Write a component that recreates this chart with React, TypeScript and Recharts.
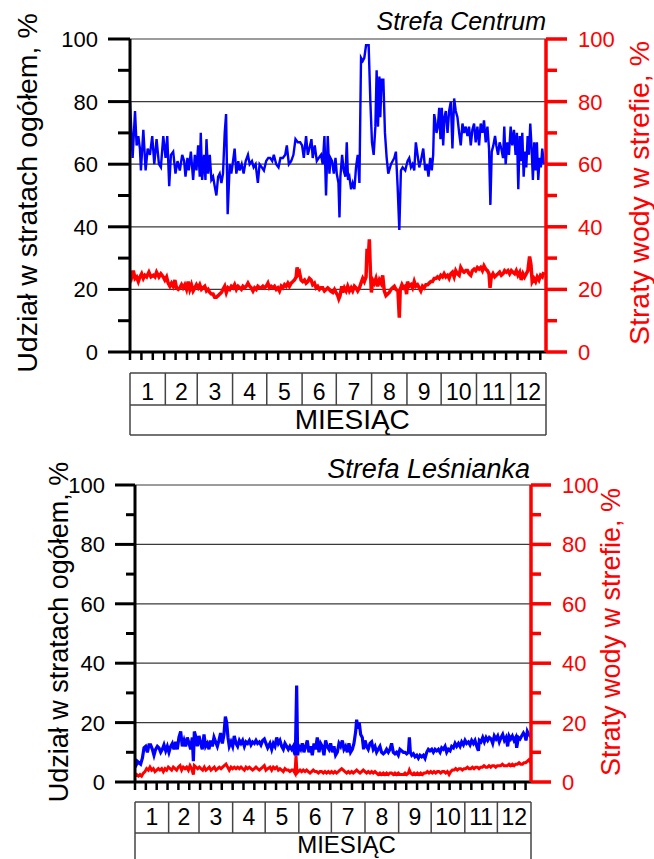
import { ComposedChart, Line, XAxis, YAxis, ReferenceLine } from "recharts";

type Pt = [number, number];

// day-of-year (0..365) / value pairs
const centrumUdzial: Pt[] = [
  [0, 80], [2.3, 62], [4.4, 77], [5.8, 66], [7.3, 69], [8.7, 65], [9.6, 58], [11.7, 71], [13.7, 58], [15.5, 65],
  [17.5, 63], [19.5, 69], [21.3, 60], [23.3, 68], [25.4, 60], [27.1, 59], [29.2, 69], [31.2, 62], [32.7, 69], [34.4, 53],
  [35.9, 63], [37.9, 64], [39.9, 57], [41.7, 61], [43.7, 58], [45.8, 63], [47.5, 61], [48.7, 56], [50.4, 62], [51.6, 58],
  [53.4, 64], [55.4, 55], [56.9, 63], [58.3, 58], [59.8, 66], [61.2, 56], [62.1, 70], [63.3, 55], [65, 63], [66.2, 55],
  [67.1, 68], [68.5, 57], [70, 63], [71.4, 55], [72.9, 56], [74.3, 53], [75.8, 50], [77.3, 56], [78.7, 57], [80.2, 54],
  [81.6, 57], [83.1, 70], [84.3, 76], [85.7, 44], [87.5, 60], [88.9, 57], [90.4, 61], [91.8, 65], [93.3, 57], [95, 61],
  [96.2, 58], [98, 60], [99.7, 57], [101.5, 61], [103.5, 63], [105, 60], [107, 61], [108.5, 59], [110.2, 60], [112.2, 54],
  [113.7, 60], [115.7, 59], [117.5, 58], [119.5, 61], [121.3, 62], [123, 62], [124.8, 61], [126.2, 63], [128.3, 60], [130.3, 59],
  [132, 62], [134.1, 62], [136.2, 63], [137.6, 66], [139.4, 60], [141.4, 61], [143.4, 63], [145.2, 68], [147.2, 67], [149.3, 67],
  [151, 66], [152.5, 62], [154.5, 69], [156, 63], [157.4, 65], [159.2, 68], [160.3, 62], [162.1, 66], [163.9, 61], [165.6, 62],
  [167.6, 63], [169.1, 60], [170.6, 69], [172, 50], [173.5, 69], [175, 57], [175.9, 62], [177.3, 61], [178.8, 57], [180.3, 62],
  [181.4, 57], [182.9, 54], [183.8, 43], [184.6, 56], [186.1, 63], [187.5, 58], [189, 56], [190.2, 67], [191.3, 55], [192.5, 56],
  [194, 52], [195.4, 54], [196.9, 52], [198.3, 59], [199.8, 63], [201.3, 54], [202.7, 94], [204.2, 93], [205.6, 94], [207.1, 98],
  [209.4, 98], [210.9, 80], [212.3, 67], [213.8, 63], [215.3, 72], [216.4, 90], [217.6, 72], [218.8, 88], [219.6, 75], [220.8, 87],
  [222.3, 87], [223.7, 70], [225.2, 62], [226.6, 57], [229, 60], [231.9, 62], [233.3, 64], [234.8, 53], [236.3, 39], [237.7, 58],
  [239.2, 59], [241.5, 58], [243.5, 61], [245, 62], [246.5, 59], [247.9, 60], [249.4, 58], [250.8, 67], [252.3, 63], [253.8, 59],
  [255.2, 61], [257.3, 65], [259, 58], [260.5, 60], [261.9, 56], [263.4, 62], [264.8, 58], [266, 63], [266.9, 76], [267.8, 74],
  [268.9, 70], [270.1, 72], [271.3, 78], [272.4, 68], [273.6, 78], [274.8, 66], [275.9, 75], [277.1, 77], [278.6, 70], [280, 77],
  [281.5, 80], [282.9, 65], [284.4, 81], [285.8, 77], [287.3, 75], [288.8, 70], [290.2, 66], [291.7, 73], [293.1, 70], [294.6, 72],
  [296.1, 69], [297.5, 72], [299, 66], [300.4, 71], [301.9, 73], [303.3, 67], [304.8, 72], [306.3, 66], [307.7, 73], [309.2, 70],
  [310.6, 74], [312.1, 67], [313.6, 72], [315, 65], [316.2, 47], [317.4, 64], [318.8, 66], [320.3, 69], [321.4, 66], [322.9, 63],
  [324.3, 67], [325.8, 65], [327.3, 62], [328.4, 72], [329.6, 60], [331.1, 67], [332.5, 63], [334, 72], [335.4, 66], [336.9, 71],
  [338.3, 63], [339.5, 70], [340.7, 52], [341.9, 69], [343, 61], [344.2, 70], [345.4, 56], [346.5, 64], [347.7, 59], [348.9, 69],
  [350, 63], [351.2, 73], [352.4, 65], [353.5, 55], [354.7, 67], [355.9, 58], [357, 67], [358.2, 55], [359.4, 62], [360.5, 59],
  [361.7, 65], [363.1, 60],
];

const centrumStraty: Pt[] = [
  [0, 26], [1.5, 24], [2.9, 26], [4.4, 23.5], [5.8, 24], [7.3, 22.5], [8.7, 24], [10.2, 25], [11.7, 23.5], [13.1, 24.5],
  [14.6, 24], [16.6, 25.5], [18.4, 24], [20.4, 24.5], [21.9, 24], [23.3, 25.5], [25.4, 24], [27.1, 25], [29.2, 24], [30.6, 23],
  [32.1, 24], [33.5, 22], [35, 21], [36.4, 22], [37.9, 21], [39.4, 23], [40.8, 20.5], [42.3, 20], [43.7, 20.5], [45.2, 21.5],
  [46.6, 20.5], [48.1, 21.5], [49.6, 20], [51, 22.5], [52.5, 20], [53.9, 21.5], [55.4, 19.5], [56.9, 20.5], [58.3, 21.5], [59.8, 20.5],
  [61.2, 21.5], [62.7, 20], [64.1, 20.5], [65.6, 21], [67.1, 19.5], [68.5, 20], [70, 19], [71.4, 18.5], [72.9, 18.5], [74.3, 17.5],
  [75.8, 17.5], [77.3, 18], [78.7, 18.5], [80.2, 19], [81.6, 20], [83.1, 21], [84.5, 19], [86, 20.5], [87.5, 20], [88.9, 21],
  [90.4, 20.5], [91.8, 21.5], [93.3, 20], [94.8, 21], [96.2, 20.5], [97.7, 20], [99.1, 21], [100.6, 20.5], [102, 21], [103.5, 22],
  [105, 21], [106.4, 20.5], [107.9, 19.5], [109.3, 20.5], [110.8, 20], [112.2, 21], [113.7, 20.5], [115.2, 20.5], [116.6, 21], [118.1, 20.5],
  [119.5, 21], [121, 22], [122.4, 20.5], [123.9, 21], [125.4, 20.5], [126.8, 21], [128.3, 20], [129.7, 20.5], [131.2, 19.5], [132.7, 21],
  [134.1, 20.5], [135.6, 21.5], [137, 21], [138.5, 22], [139.9, 21], [141.4, 22], [142.9, 22.5], [144.3, 23], [145.8, 24], [146.6, 27],
  [147.8, 25], [148.7, 25.5], [150.1, 23], [151.6, 22.5], [153.1, 23], [154.5, 22], [156, 22.5], [157.4, 23.5], [158.9, 23], [160.3, 21.5],
  [161.8, 22], [163.3, 20.5], [164.7, 21], [166.2, 20], [167.6, 20.5], [169.1, 20.5], [170.6, 19.5], [172, 20], [173.5, 20.5], [174.9, 20],
  [175.9, 19.5], [177.9, 19], [179.4, 20], [180.8, 19], [182.3, 18], [183.2, 17], [184.3, 18], [185.8, 21], [186.7, 19], [188.1, 20.5],
  [189.6, 19.5], [191, 21], [192.5, 19.5], [194, 20.5], [195.4, 19.5], [196.9, 21], [198.3, 20.5], [199.8, 19.5], [201.3, 20.5], [202.7, 22],
  [204.2, 23.5], [205.6, 22.5], [207.1, 24], [208, 33], [209.1, 30], [210, 36], [210.9, 26], [211.8, 19], [212.9, 23], [214.4, 22],
  [215.8, 23.5], [217.3, 21], [218.8, 23], [220.2, 22], [221.7, 24.5], [223.1, 19.5], [224.6, 18], [226.1, 18.5], [227.5, 19], [229, 20],
  [230.4, 20.5], [231.9, 21], [233.3, 20], [235.1, 19.5], [236.3, 11], [237.1, 20], [238.6, 21.5], [240, 20.5], [241.5, 21], [242.7, 18.5],
  [243.5, 22.5], [245, 21], [246.5, 21.5], [247.9, 20.5], [249.4, 22.5], [250.8, 21], [252.3, 21.5], [253.8, 20.5], [255.2, 19.5], [256.7, 21],
  [258.1, 20.5], [259.6, 21.5], [261.1, 21.5], [262.5, 22], [264, 22.5], [265.4, 22.5], [266.9, 23.5], [268.3, 23.5], [269.8, 24], [271.3, 23.5],
  [272.7, 24.5], [274.2, 24], [275.6, 25], [277.1, 24], [278.6, 24.5], [280, 23.5], [281.5, 25], [282.9, 25.5], [284.4, 24], [285.8, 26],
  [287.3, 25], [288.8, 24.5], [290.2, 27], [291.7, 26], [293.1, 25.5], [294.6, 26], [296.1, 26], [297.5, 25], [299, 24.5], [300.4, 26],
  [301.9, 26.5], [303.3, 26], [304.8, 27], [306.3, 26.5], [307.7, 27], [309.2, 26], [310.6, 27.5], [312.1, 26.5], [313.6, 26], [315, 25],
  [315.9, 20.5], [317, 24], [318.5, 25], [320, 24], [321.4, 24.5], [322.9, 25], [324.3, 25.5], [325.8, 24.5], [327.3, 25], [328.7, 26],
  [330.2, 25.5], [331.6, 26], [333.1, 25], [334.6, 26], [336, 25.5], [337.5, 25], [338.9, 26], [340.4, 24.5], [341.9, 25.5], [343.3, 23],
  [344.8, 25], [346.2, 24], [347.7, 25], [349.1, 26], [350.6, 30.5], [351.8, 28], [352.9, 22.5], [354.4, 23.5], [355.9, 22.5], [357.3, 24],
  [358.8, 23], [360.2, 24.5], [361.7, 24], [363.1, 25.5],
];

const lesniankaUdzial: Pt[] = [
  [0, 5], [1.5, 6], [2.1, 7], [3.7, 6.5], [5.2, 6], [6.8, 8], [8.3, 11.5], [9.8, 12], [11.4, 10], [12.9, 12.5],
  [14.4, 12.5], [16, 11], [17.5, 9], [19, 11], [20.6, 12], [22.1, 11.5], [23.7, 10], [25.2, 11], [26.7, 12.5], [28.3, 10.5],
  [29.8, 12], [31.3, 10], [32.9, 12], [34.4, 13], [35.9, 11], [37.5, 13.5], [39, 11], [40.5, 15], [42.1, 17], [43.6, 12],
  [45.2, 14], [46.7, 12], [48.2, 15], [49.8, 13], [51.3, 11], [52.8, 15], [53.8, 7], [54.7, 17], [56.2, 15], [57.4, 12],
  [59, 15.5], [60.5, 13], [62, 11], [63.6, 16], [65.1, 12], [66.7, 13], [68.2, 11], [69.7, 14], [71.3, 12], [72.8, 15],
  [74.3, 13.5], [75.9, 12], [77.4, 14], [78.9, 16.5], [80.5, 13], [82, 16], [83.3, 22], [84.5, 20], [85.7, 15], [86.9, 12],
  [88.5, 13.5], [90, 12], [91.5, 15.5], [93.1, 13], [94.6, 12], [96.2, 14], [97.7, 13], [99.2, 14], [100.8, 12], [102.3, 13.5],
  [103.8, 13], [105.4, 14], [106.9, 12.5], [108.4, 13.5], [110, 13], [111.5, 14], [113, 13], [114.6, 13.5], [116.1, 12.5], [117.7, 14],
  [119.2, 14.5], [120.7, 13], [122.3, 11.5], [124.4, 13], [126, 11], [127.5, 13], [129, 12], [130.6, 15], [132.1, 13], [133.6, 14],
  [135.2, 12], [136.7, 11], [138.2, 13], [139.8, 12], [141.3, 11], [142.8, 12], [144.4, 11], [145.9, 12], [146.8, 10], [147.8, 9],
  [149, 32.5], [149.9, 9], [151.1, 12], [152.7, 11], [154.2, 13], [155.7, 10], [157.3, 12], [158.8, 14], [160.3, 10], [161.9, 12],
  [163.4, 9], [165, 13], [166.5, 11], [168, 15], [169.6, 10], [171.1, 13], [172.6, 12], [174.2, 9], [175.7, 14], [177.2, 12],
  [178.8, 11], [180.3, 13], [181.9, 10], [183.4, 12], [184.9, 9], [186.5, 10], [188, 13], [189.5, 12], [191.1, 14], [192.6, 11],
  [194.1, 12], [195.7, 10], [197.2, 13], [198.7, 10], [200.3, 11], [201.8, 13], [203.4, 17], [204.3, 21], [205.5, 18], [206.7, 20],
  [208, 16], [209.5, 15], [210.7, 11], [212, 14], [213.5, 12], [215, 11], [216.6, 13], [218.1, 13.5], [219.6, 11], [221.2, 12],
  [222.7, 10], [224.2, 11], [225.8, 12], [227.3, 10], [228.9, 9.5], [230.4, 10], [231.9, 11], [233.5, 10], [235, 11], [236.5, 13],
  [238.1, 10], [239.6, 9.5], [241.1, 10], [242.7, 9], [244.2, 11], [247.4, 10], [248.9, 10], [250.4, 9.5], [252, 10], [252.9, 15],
  [253.8, 10], [255.1, 9], [256.6, 9.5], [258.1, 8.5], [259.7, 9], [261.2, 8], [262.7, 9], [264.3, 8.5], [265.8, 9], [267.3, 8],
  [268.9, 10], [270.4, 11], [271.9, 10.5], [273.5, 11], [275, 10], [276.6, 11], [278.1, 10.5], [279.6, 11], [281.2, 10], [282.7, 11.5],
  [284.2, 11], [285.8, 12], [287.3, 10], [288.8, 11], [290.4, 10.5], [291.9, 12], [293.5, 11.5], [295, 13], [296.5, 12], [298.1, 13],
  [299.6, 12], [301.1, 13.5], [302.7, 12.5], [304.2, 14], [305.7, 13], [307.3, 13.5], [308.8, 12.5], [310.3, 14], [311.9, 13], [313.4, 14],
  [315, 12], [316.5, 10.5], [317.4, 14], [318.9, 13.5], [320.5, 15], [322, 13.5], [323.6, 15], [325.1, 14], [326.6, 15], [328.2, 14.5],
  [329.7, 13], [331.2, 15.5], [332.8, 14.5], [334.3, 15.5], [335.8, 13.5], [337.4, 15], [338.9, 16], [340.5, 14], [342, 15], [343.5, 12],
  [344.8, 15.5], [346.3, 14.5], [347.8, 15.5], [349.4, 14], [350.9, 15], [351.8, 11.5], [353.4, 15], [354.9, 14.5], [356.4, 15.5], [358, 16.5],
  [359.5, 15.5], [360.4, 14], [361.6, 17], [362.9, 16], [364.1, 15.5], [365, 16],
];

const lesniankaStraty: Pt[] = [
  [0, 2], [1.5, 2.5], [3.1, 2], [4.6, 2.5], [6.1, 2], [7.7, 3], [9.2, 3.5], [10.7, 4.5], [12.3, 4], [13.8, 5],
  [15.4, 4], [16.9, 4.5], [18.4, 3.5], [20, 4], [21.5, 4.5], [23, 4], [24.6, 4.5], [26.1, 3.5], [27.7, 4.5], [29.2, 4],
  [30.7, 5], [32.3, 4.5], [33.8, 4], [35.3, 5], [36.9, 4.5], [38.4, 4], [39.9, 5], [41.5, 5.5], [43, 4], [44.5, 5],
  [46.1, 4.5], [47.6, 5], [49.2, 4], [50.7, 5.5], [52.2, 4.5], [53.8, 2.5], [54.7, 5.5], [56.2, 5], [57.8, 4.5], [59.3, 5],
  [60.8, 4.5], [62.4, 4], [63.9, 5], [65.4, 4], [67, 4.5], [68.5, 5], [70, 4], [71.6, 4.5], [73.1, 5], [74.6, 4],
  [76.2, 4.5], [77.7, 5], [79.3, 4.5], [80.8, 5], [82.3, 5.5], [83.9, 6], [85.4, 5], [86.9, 4], [88.5, 5], [90, 4.5],
  [91.5, 5], [93.1, 4.5], [94.6, 5], [96.2, 4.5], [97.7, 5], [99.2, 4.5], [100.8, 4], [102.3, 5], [103.8, 4.5], [105.4, 5],
  [106.9, 4.5], [108.4, 4], [110, 4.5], [111.5, 5], [113, 4.5], [114.6, 4], [116.1, 4.5], [117.7, 5], [119.2, 5.5], [120.7, 4],
  [122.3, 4.5], [124.4, 5], [126, 4], [127.5, 5], [129, 4.5], [130.6, 5], [132.1, 4], [133.6, 4.5], [135.2, 4], [136.7, 3.5],
  [138.2, 4.5], [139.8, 4], [141.3, 4], [142.8, 3.5], [144.4, 4], [145.9, 4], [147.5, 3], [148.4, 9], [149.3, 3], [150.5, 3.5],
  [152.1, 4], [153.6, 3.5], [155.1, 4], [156.7, 3.5], [158.2, 4], [159.7, 3.5], [161.3, 3], [162.8, 3.5], [164.3, 4], [165.9, 3.5],
  [167.4, 3.5], [169, 3], [170.5, 3.5], [172, 3.5], [173.6, 3], [175.1, 3.5], [176.6, 3], [178.2, 3.5], [179.7, 3], [181.2, 3.5],
  [182.8, 3], [184.3, 3.5], [185.8, 3], [187.4, 3.5], [188.9, 4], [190.5, 4.5], [192, 4], [193.5, 3.5], [195.1, 3], [196.6, 3.5],
  [198.1, 3], [199.7, 3.5], [201.2, 3], [202.7, 3.5], [204.3, 4], [205.8, 3.5], [207.4, 3], [208.9, 3.5], [210.4, 4], [212, 3.5],
  [213.5, 3], [215, 3.5], [216.6, 3], [218.1, 3.5], [219.6, 3], [221.2, 3.5], [222.7, 3], [224.2, 2.5], [225.8, 3], [227.3, 2.5],
  [228.9, 3], [230.4, 2.5], [231.9, 3], [233.5, 2.5], [235, 3], [236.5, 3], [238.1, 2.5], [239.6, 3], [241.1, 2.5], [242.7, 3],
  [244.2, 2.5], [247.4, 2.5], [248.9, 3], [250.4, 2.5], [252, 3], [252.9, 4], [254.1, 3], [255.7, 2.5], [257.2, 3], [258.7, 2.5],
  [260.3, 3], [261.8, 2.5], [263.3, 3], [264.9, 2.5], [266.4, 3], [267.9, 3], [269.5, 3.5], [271, 3], [272.6, 3.5], [274.1, 3],
  [275.6, 3.5], [277.2, 3], [278.7, 3.5], [280.2, 3.5], [281.8, 3], [283.3, 3.5], [284.9, 3.5], [286.4, 3], [287.9, 3.5], [289.5, 2.5],
  [291, 3.5], [292.5, 4], [294.1, 4], [295.6, 4.5], [297.1, 4], [298.7, 4.5], [300.2, 4.5], [301.7, 4], [303.3, 4.5], [304.8, 4.5],
  [306.4, 5], [307.9, 4.5], [309.4, 4.5], [311, 5], [312.5, 4.5], [314, 5], [315.6, 5], [317.1, 4.5], [318.6, 5], [320.2, 5],
  [321.7, 5.5], [323.3, 5], [324.8, 5], [326.3, 5.5], [327.9, 5], [329.4, 5.5], [330.9, 5.5], [332.5, 5], [334, 5.5], [335.5, 5.5],
  [337.1, 5.5], [338.6, 6], [340.1, 5.5], [341.7, 5.5], [343.2, 5.5], [344.8, 6], [346.3, 5.5], [347.8, 6], [349.4, 5.5], [350.9, 6],
  [352.4, 6], [354, 6.5], [355.5, 6], [357.1, 6], [358.6, 6.5], [360.1, 6.5], [361.7, 7], [363.2, 7.5], [364.7, 6.5],
];

const monthEdges = [0, 31, 59, 90, 120, 151, 181, 212, 243, 273, 304, 334, 365];
const monthLabels = ["1", "2", "3", "4", "5", "6", "7", "8", "9", "10", "11", "12"];
const dayTicks = [0, 10, 20, 30, 40, 50, 60, 70, 80, 90, 100, 110, 120, 130, 140, 150, 160, 170, 180, 190, 200, 210, 220, 230, 240, 250, 260, 270, 280, 290, 300, 310, 320, 330, 340, 350, 360];
const yTicks = [0, 10, 20, 30, 40, 50, 60, 70, 80, 90, 100];
const gridValues = [20, 40, 60, 80, 100];
const monthTitle = "MIESIĄC";
const monthTitleDay = 195;
const leftTitle = "Udział w stratach ogółem, %";
const rightTitle = "Straty wody w strefie, %";

const monthMids = monthLabels.map((_, i) => (monthEdges[i] + monthEdges[i + 1]) / 2);
const allXTicks = Array.from(new Set([...dayTicks, ...monthEdges, ...monthMids, monthTitleDay])).sort((a, b) => a - b);

const FONT = '"Liberation Sans", Arial, Helvetica, sans-serif';
const BLUE = "#0000ff";
const RED = "#ff0000";
const BOX = "#444";

type Geo = {
  width: number;
  height: number;
  top: number;
  bottom: number;
  leftW: number;
  rightW: number;
  dayH: number;
  rowH: number;
  row2H: number;
  major: number;
  minor: number;
  gap: number;
  rMajor: number;
  rMinor: number;
  rGap: number;
  blueW: number;
  redW: number;
  monthBase: number;
  titleBase: number;
  titleSize: number;
};

const toPts = (arr: Pt[]) => arr.map(([day, v]) => ({ day, v }));

function Panel({ geo, blue, red }: { geo: Geo; blue: Pt[]; red: Pt[] }) {
  const leftTick = (p: any) => {
    const major = p.payload.value % 20 === 0;
    return (
      <g>
        <line x1={p.x - (major ? geo.major : geo.minor)} x2={p.x} y1={p.y} y2={p.y} stroke="#000" strokeWidth={3} />
        {major && (
          <text x={p.x - geo.gap} y={p.y + 8} textAnchor="end" fontSize={22} fontFamily={FONT} fill="#000">
            {p.payload.value}
          </text>
        )}
      </g>
    );
  };
  const rightTick = (p: any) => {
    const major = p.payload.value % 20 === 0;
    return (
      <g>
        <line x1={p.x} x2={p.x + (major ? geo.rMajor : geo.rMinor)} y1={p.y} y2={p.y} stroke={RED} strokeWidth={3.5} />
        {major && (
          <text x={p.x + geo.rGap} y={p.y + 8} textAnchor="start" fontSize={22} fontFamily={FONT} fill={RED}>
            {p.payload.value}
          </text>
        )}
      </g>
    );
  };
  // one tick renderer for the day ticks and the month table below the axis
  const xTick = (p: any) => {
    const v = p.payload.value;
    const rowTop = p.y + geo.dayH;
    const edge = monthEdges.indexOf(v);
    const mid = monthMids.indexOf(v);
    const outer = edge === 0 || edge === monthEdges.length - 1;
    return (
      <g>
        {dayTicks.includes(v) && (
          <line x1={p.x} x2={p.x} y1={p.y} y2={p.y + 8} stroke="#000" strokeWidth={2.5} />
        )}
        {edge >= 0 && (
          <line x1={p.x} x2={p.x} y1={rowTop} y2={rowTop + (outer ? geo.rowH + geo.row2H : geo.rowH)} stroke={BOX} strokeWidth={1.5} />
        )}
        {mid >= 0 && (
          <text x={p.x} y={rowTop + geo.monthBase} textAnchor="middle" fontSize={23} fontFamily={FONT} fill="#000">
            {monthLabels[mid]}
          </text>
        )}
        {v === monthTitleDay && (
          <text x={p.x} y={rowTop + geo.rowH + geo.titleBase} textAnchor="middle" fontSize={geo.titleSize} fontFamily={FONT} fill="#000">
            {monthTitle}
          </text>
        )}
      </g>
    );
  };

  return (
    <ComposedChart width={geo.width} height={geo.height} margin={{ top: geo.top, right: 0, bottom: geo.bottom, left: 0 }}>
      <XAxis
        xAxisId="d"
        type="number"
        dataKey="day"
        domain={[0, 365]}
        allowDataOverflow
        ticks={allXTicks}
        interval={0}
        height={geo.dayH}
        tick={xTick}
        tickSize={0}
        tickMargin={0}
        tickLine={false}
        axisLine={{ stroke: "#000", strokeWidth: 3 }}
      />
      <XAxis xAxisId="m" type="number" domain={[0, 365]} allowDataOverflow height={geo.rowH} tick={false} tickLine={false} axisLine={{ stroke: BOX, strokeWidth: 1.5 }} />
      <XAxis xAxisId="t" type="number" domain={[0, 365]} allowDataOverflow height={geo.row2H} tick={false} tickLine={false} axisLine={{ stroke: BOX, strokeWidth: 1.5 }} />
      <XAxis xAxisId="z" type="number" domain={[0, 365]} allowDataOverflow height={2} tick={false} tickLine={false} axisLine={{ stroke: BOX, strokeWidth: 1.5 }} />
      <YAxis
        yAxisId="l"
        orientation="left"
        type="number"
        domain={[0, 100]}
        ticks={yTicks}
        interval={0}
        width={geo.leftW}
        tickSize={0}
        tickMargin={0}
        tickLine={false}
        tick={leftTick}
        axisLine={{ stroke: "#000", strokeWidth: 3 }}
      />
      <YAxis
        yAxisId="r"
        orientation="right"
        type="number"
        domain={[0, 100]}
        ticks={yTicks}
        interval={0}
        width={geo.rightW}
        tickSize={0}
        tickMargin={0}
        tickLine={false}
        tick={rightTick}
        axisLine={{ stroke: RED, strokeWidth: 3.5 }}
      />
      {gridValues.map((g) => (
        <ReferenceLine key={g} xAxisId="d" yAxisId="l" y={g} stroke="#3a3a3a" strokeWidth={1.2} />
      ))}
      <Line
        xAxisId="d"
        yAxisId="r"
        data={toPts(red)}
        dataKey="v"
        type="linear"
        stroke={RED}
        strokeWidth={geo.redW}
        dot={false}
        isAnimationActive={false}
      />
      <Line
        xAxisId="d"
        yAxisId="l"
        data={toPts(blue)}
        dataKey="v"
        type="linear"
        stroke={BLUE}
        strokeWidth={geo.blueW}
        dot={false}
        isAnimationActive={false}
      />
    </ComposedChart>
  );
}

const topGeo: Geo = {
  width: 654, height: 440, top: 39, bottom: 3, leftW: 130, rightW: 108,
  dayH: 21, rowH: 32, row2H: 30,
  major: 22, minor: 12, gap: 32, rMajor: 21, rMinor: 11, rGap: 32,
  blueW: 2.4, redW: 3.5, monthBase: 27, titleBase: 24, titleSize: 28,
};

const bottomGeo: Geo = {
  width: 654, height: 430, top: 45, bottom: 5, leftW: 135, rightW: 123,
  dayH: 20, rowH: 31, row2H: 30,
  major: 20, minor: 9, gap: 30, rMajor: 20, rMinor: 10, rGap: 31,
  blueW: 3.2, redW: 3, monthBase: 23, titleBase: 20, titleSize: 24,
};

export default function App() {
  const rot = (x: number, y: number) => `rotate(-90, ${x}, ${y})`;
  return (
    <div style={{ position: "absolute", left: 0, top: 0, width: 654, height: 859, overflow: "hidden", background: "#fff" }}>
      <div style={{ position: "absolute", left: 0, top: 0 }}>
        <Panel geo={topGeo} blue={centrumUdzial} red={centrumStraty} />
      </div>
      <div style={{ position: "absolute", left: 0, top: 440 }}>
        <Panel geo={bottomGeo} blue={lesniankaUdzial} red={lesniankaStraty} />
      </div>
      <svg width={654} height={859} style={{ position: "absolute", left: 0, top: 0, pointerEvents: "none" }}>
        <g fontFamily={FONT}>
          <text x={546} y={30} textAnchor="end" fontSize={25} fontStyle="italic" fill="#000">Strefa Centrum</text>
          <text x={37} y={193} textAnchor="middle" fontSize={28.5} fill="#000" transform={rot(37, 193)}>{leftTitle}</text>
          <text x={649} y={193} textAnchor="middle" fontSize={28.5} fill={RED} transform={rot(649, 193)}>{rightTitle}</text>
          <text x={530} y={478} textAnchor="end" fontSize={27} fontStyle="italic" fill="#000">Strefa Leśnianka</text>
          <text x={68} y={632} textAnchor="middle" fontSize={27} fill="#000" transform={rot(68, 632)}>{leftTitle}</text>
          <text x={620} y={632} textAnchor="middle" fontSize={27} fill={RED} transform={rot(620, 632)}>{rightTitle}</text>
        </g>
      </svg>
    </div>
  );
}
